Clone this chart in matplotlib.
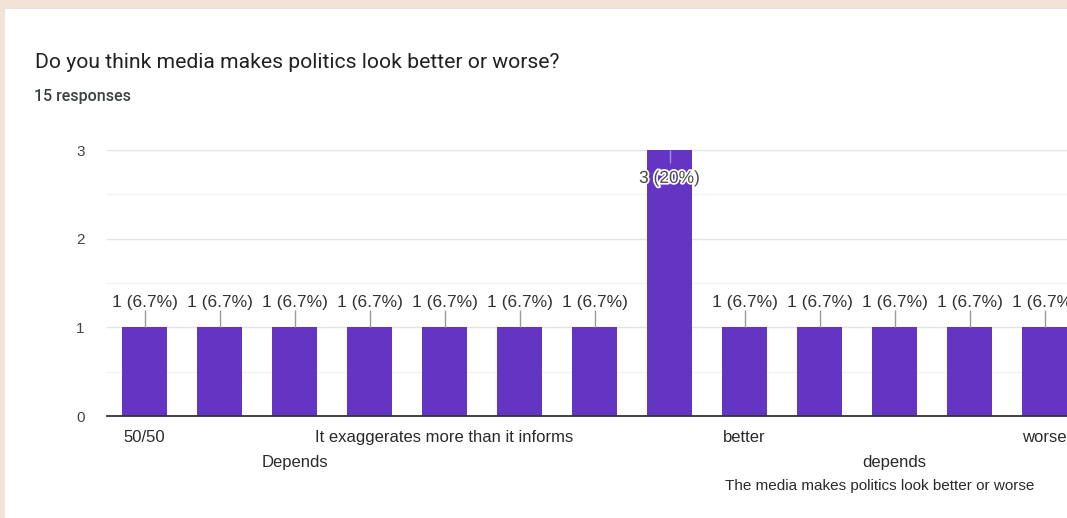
import matplotlib
matplotlib.use("Agg")
import matplotlib.pyplot as plt
import matplotlib.patheffects as pe
from matplotlib.patches import Rectangle

# ---- data ---------------------------------------------------------------
TITLE = "Do you think media makes politics look better or worse?"
SUBTITLE = "15 responses"
categories = ["50/50", "", "Depends", "", "It exaggerates more than it informs",
              "", "", "", "better", "", "depends",
              "The media makes politics look better or worse", "worse"]
counts = [1, 1, 1, 1, 1, 1, 1, 3, 1, 1, 1, 1, 1]
label_rows = [0, 0, 1, 0, 0, 0, 0, 0, 0, 0, 1, 2, 0]
label_nudge = [0, 0, 0, 0, 0, 0, 0, 0, 0, 0, 0, -1.2, 0]
yticks = [0, 1, 2, 3]

# ---- style --------------------------------------------------------------
BG = "#efe4d6"
CARD = "#ffffff"
BAR = "#6435c2"
TEXT = "#202124"
FONT = ["Liberation Sans", "DejaVu Sans"]

W, H = 1067, 518
fig = plt.figure(figsize=(W / 100, H / 100), dpi=100, facecolor=BG)
fig.patches.append(Rectangle((5 / W, 0), 1, 1 - 9 / H, transform=fig.transFigure,
                             facecolor=CARD, edgecolor="none", zorder=-10))

fig.text(35 / W, 1 - 62 / H, TITLE, fontsize=15.2, color=TEXT, family=["Roboto"] + FONT,
         ha="left", va="center")
fig.text(34 / W, 1 - 97 / H, SUBTITLE, fontsize=11.5, color="#3c4043", weight="medium",
         family=["Roboto"] + FONT, ha="left", va="center")

# axes: one category = 75 px, y unit = 88.7 px
ax = fig.add_axes([107 / W, 102 / H, 13 * 75 / W, 266 / H])
ax.set_facecolor("none")
x = list(range(len(categories)))
ax.bar(x, counts, width=0.61, color=BAR, zorder=3)
ax.set_xlim(-0.5, len(categories) - 0.5)
ax.set_ylim(0, 3)

ax.set_yticks(yticks)
ax.set_yticks([0.5, 1.5, 2.5], minor=True)
ax.grid(axis="y", which="major", color="#e4e4e4", lw=1, zorder=0)
ax.grid(axis="y", which="minor", color="#f3f3f3", lw=1, zorder=0)
ax.set_xticks([])
ax.tick_params(axis="y", which="both", length=0, pad=16, labelsize=11, labelcolor="#444444")
for lbl in ax.get_yticklabels():
    lbl.set_family(FONT)
for s in ("top", "right", "left"):
    ax.spines[s].set_visible(False)
ax.spines["bottom"].set_color("#333333")
ax.spines["bottom"].set_linewidth(1.3)
ax.spines["bottom"].set_zorder(4)

total = sum(counts)
top = max(counts)
for i, c in enumerate(counts):
    pct = f"{100 * c / total:.1f}".rstrip("0").rstrip(".")
    txt = f"{c} ({pct}%)"
    if c == top:
        ax.vlines(i, c - 0.15, c, color="#a58fe0", lw=1, zorder=4)
        ax.text(i, c - 0.32, txt, ha="center", va="center", fontsize=12.5, color="#4a4a4a",
                family=FONT, zorder=5,
                path_effects=[pe.withStroke(linewidth=2.5, foreground="white")])
    else:
        ax.vlines(i, c, c + 0.2, color="#9a9a9a", lw=1, zorder=4)
        ax.text(i, c + 0.28, txt, ha="center", va="center", fontsize=12.5, color="#333333",
                family=FONT, zorder=5)

# staggered category labels below the axis
row_y = [-0.079, -0.173, -0.263]
for i, (name, row, dx) in enumerate(zip(categories, label_rows, label_nudge)):
    if name:
        ax.text(i + dx, row_y[row], name, transform=ax.get_xaxis_transform(),
                ha="center", va="center", fontsize=12 if row < 2 else 11,
                color="#2a2a2a", family=FONT, clip_on=False)

fig.savefig("out.png", dpi=100, facecolor=BG)
